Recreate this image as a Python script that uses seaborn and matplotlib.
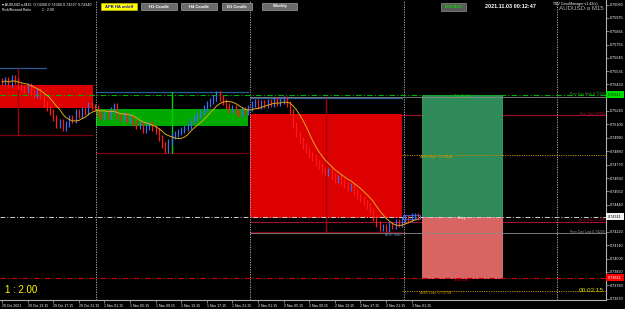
import numpy as np
import pandas as pd
import matplotlib
matplotlib.use("Agg")
import matplotlib.pyplot as plt
from matplotlib.patches import Rectangle
import seaborn as sns

# ---------------- data ----------------
time_labels = ["29 Oct 2021", "29 Oct 13:15", "29 Oct 17:15", "29 Oct 21:15",
               "1 Nov 01:15", "1 Nov 05:15", "1 Nov 09:15", "1 Nov 13:15",
               "1 Nov 17:15", "1 Nov 21:15", "2 Nov 01:15", "2 Nov 05:15",
               "2 Nov 09:15", "2 Nov 13:15", "2 Nov 17:15", "2 Nov 21:15",
               "3 Nov 01:15"]
time_label_hours = [0, 4, 8, 12, 16, 20, 24, 28, 32, 36, 40, 44, 48, 52, 56, 60, 64]

price_ticks = [0.76080, 0.75975, 0.75865, 0.75755, 0.75645, 0.75535, 0.75430,
               0.75210, 0.75100, 0.74990, 0.74880, 0.74770, 0.74660,
               0.74550, 0.74440, 0.74220, 0.74110, 0.74000, 0.73890,
               0.73780, 0.73670]

# 30-minute closes
closes_day1 = [0.75448, 0.75464, 0.75431, 0.75480, 0.75456, 0.75415, 0.75398, 0.75382,
               0.75415, 0.75366, 0.75341, 0.75374, 0.75333, 0.75267, 0.75234, 0.75202,
               0.75152, 0.75095, 0.75120, 0.75070, 0.75103, 0.75152, 0.75136, 0.75202,
               0.75177, 0.75218, 0.75202, 0.75259, 0.75242, 0.75234]
closes_day2 = [0.75185, 0.75161, 0.75193, 0.75169, 0.75218, 0.75251, 0.75169, 0.75152,
               0.75177, 0.75136, 0.75152, 0.75111, 0.75087, 0.75103, 0.75054, 0.75079,
               0.75103, 0.75070, 0.75046, 0.74988, 0.74931, 0.74890, 0.74956, 0.75005,
               0.75021, 0.75038, 0.75054, 0.75070, 0.75087, 0.75128, 0.75152, 0.75177,
               0.75202, 0.75234, 0.75267, 0.75292, 0.75316, 0.75349, 0.75316, 0.75284,
               0.75251, 0.75218, 0.75234, 0.75202, 0.75185, 0.75218, 0.75202, 0.75234]
closes_day3 = [0.75267, 0.75284, 0.75251, 0.75275, 0.75259, 0.75284, 0.75267, 0.75300,
               0.75275, 0.75292, 0.75308, 0.75267, 0.75202, 0.75095, 0.75021, 0.74972,
               0.74923, 0.74890, 0.74849, 0.74824, 0.74783, 0.74759, 0.74726, 0.74701,
               0.74718, 0.74677, 0.74644, 0.74660, 0.74628, 0.74603, 0.74578, 0.74595,
               0.74546, 0.74513, 0.74488, 0.74455, 0.74431, 0.74390, 0.74332, 0.74283,
               0.74250, 0.74259, 0.74242, 0.74275, 0.74267, 0.74300, 0.74283, 0.74316]
closes_day4 = [0.74332, 0.74324, 0.74349, 0.74349, 0.74340]
bar_hours = 0.5

day_start = [-1.0, 14.75, 38.75]
day_end = [14.25, 38.5, 62.5]
day_high_end = [6.9, 38.5, 62.5]
day_open = [0.75423, 0.75087, 0.75185]
day_close = [0.75234, 0.75226, 0.74332]
day_high = [0.75562, 0.75366, 0.75316]
day_low = [0.75013, 0.74865, 0.74218]
day_mid = [2.5, 26.6, 50.6]
separator_hours = [14.75, 38.75, 62.75, 86.75]

entry_price = 0.74341
take_profit = 0.75341
stop_loss = 0.73841
prev_day_high = 0.75325
prev_day_open = 0.75177
prev_day_close = 0.74300
prev_day_low = 0.74209
adr_high = 0.74849
adr_low = 0.73734
adr_start = 62.5
trade_box = [65.6, 78.1]

# ---------------- figure ----------------
W, H = 625, 309
sns.set_style("dark", {"axes.facecolor": "black", "figure.facecolor": "black"})
plt.rcParams["font.family"] = ["Liberation Sans", "DejaVu Sans"]

fig = plt.figure(figsize=(W / 100, H / 100), dpi=100)
fig.patch.set_facecolor("black")
ax = fig.add_axes([0, 9 / H, 606 / W, 300 / H])
ax.set_facecolor("black")
XMIN, XMAX = -2 / 6.4, 604 / 6.4
YMIN, YMAX = 0.73660, 0.76120
ax.set_xlim(XMIN, XMAX)
ax.set_ylim(YMIN, YMAX)

def fx(x):
    return x / W

def fy(y):
    return 1 - y / H

# day boxes
for s, e, he, o, c, hi, lo, m in zip(day_start, day_end, day_high_end, day_open,
                                      day_close, day_high, day_low, day_mid):
    col = "#00a800" if c > o else "#dc0000"
    ax.add_patch(Rectangle((s, min(o, c)), e - s, abs(c - o), facecolor=col,
                           edgecolor="none", zorder=1))
    ax.plot([s, he], [hi, hi], color="#2a5f9e", lw=0.9, zorder=2)
    ax.plot([s, e], [lo, lo], color="#7a0010", lw=0.9, zorder=2)
    ax.plot([m, m], [lo, hi], color=("#00d000" if c > o else "#a00010"), lw=1.0, zorder=2)

# trade boxes
ax.add_patch(Rectangle((trade_box[0], entry_price), trade_box[1] - trade_box[0],
                       take_profit - entry_price, facecolor="#2e8b57",
                       edgecolor="#3fa06a", lw=0.6, zorder=1))
ax.add_patch(Rectangle((trade_box[0], stop_loss), trade_box[1] - trade_box[0],
                       entry_price - stop_loss, facecolor="#d96464",
                       edgecolor="#e07878", lw=0.6, zorder=1))

# separators
for s in separator_hours:
    ax.axvline(s, color="#bdbdbd", lw=0.6, ls=(0, (1.5, 1.5)), zorder=2)

# horizontal levels
ax.axhline(take_profit, color="#00b000", lw=0.8, ls=(0, (5, 2, 1, 2)), zorder=2)
ax.axhline(entry_price, color="#cfcfcf", lw=0.7, ls=(0, (5, 2, 1, 2)), zorder=2)
ax.axhline(stop_loss, color="#d00000", lw=0.8, ls=(0, (5, 2, 1, 2)), zorder=2)
ax.plot([38.75, XMAX], [prev_day_high] * 2, color="#8a8a8a", lw=0.6, zorder=2)
ax.plot([38.75, XMAX], [prev_day_low] * 2, color="#8a8a8a", lw=0.6, zorder=2)
ax.plot([38.75, XMAX], [prev_day_open] * 2, color="#a01030", lw=0.8, zorder=0.5)
ax.plot([38.75, XMAX], [prev_day_close] * 2, color="#a01030", lw=0.8, zorder=0.5)
ax.plot([adr_start, XMAX], [adr_high] * 2, color="#c88000", lw=0.7, ls=(0, (1.2, 1.2)), zorder=2)
ax.plot([adr_start, XMAX], [adr_low] * 2, color="#c88000", lw=0.7, ls=(0, (1.2, 1.2)), zorder=2)

# candles
closes = np.array(closes_day1 + closes_day2 + closes_day3 + closes_day4)
hours = np.arange(len(closes)) * bar_hours
opens = np.concatenate([[closes[0] + 0.00010], closes[:-1]])
wick = 0.00025
highs = np.maximum(opens, closes) + wick
lows = np.minimum(opens, closes) - wick
cols = np.where(closes >= opens, "#3d6ff0", "#ff1a1a")
ax.vlines(hours, lows, highs, colors=cols, lw=0.9, zorder=4)

# blue frame around current-day bars
day4_hours = hours[-len(closes_day4):]
ax.add_patch(Rectangle((day4_hours[0] - 0.3, min(closes_day4) - 0.00002),
                       day4_hours[-1] - day4_hours[0] + 0.6,
                       max(closes_day4) - min(closes_day4) + 0.00006,
                       facecolor="none", edgecolor="#3d6ff0", lw=0.6, zorder=3))

df = pd.DataFrame({"hour": hours, "close": closes})
df["ma"] = df["close"].rolling(8, min_periods=1).mean()
sns.lineplot(data=df, x="hour", y="ma", color="#e0a81c", lw=0.7, ax=ax,
             legend=False, zorder=5)
ax.set_xlabel("")
ax.set_ylabel("")
ax.grid(False)

# axes styling
for side in ["top", "left"]:
    ax.spines[side].set_visible(False)
for side in ["right", "bottom"]:
    ax.spines[side].set_visible(True)
    ax.spines[side].set_color("#b0b0b0")
    ax.spines[side].set_linewidth(0.8)
ax.yaxis.tick_right()
ax.set_yticks(price_ticks)
ax.set_yticklabels([f"{p:.5f}" for p in price_ticks])
ax.set_xticks(time_label_hours)
ax.set_xticklabels(time_labels, ha="left")
ax.tick_params(axis="y", which="both", right=True, left=False, length=2, width=0.5,
               colors="#b0b0b0", labelcolor="white", labelsize=2.7, pad=1)
ax.tick_params(axis="x", which="both", bottom=True, length=2, width=0.5,
               colors="#b0b0b0", labelcolor="white", labelsize=2.5, pad=1)

# in-chart labels
def dtext(xh, p, s, color, size=2.7, ha="center", va="center", **kw):
    ax.text(xh, p, s, color=color, fontsize=size, ha=ha, va=va, zorder=6, **kw)

mid_trade = (trade_box[0] + trade_box[1]) / 2
dtext(mid_trade, take_profit - 0.00012, "TakeProfit", "#00d000")
dtext(mid_trade, entry_price - 0.00012, "Entry", "#f0f0f0")
dtext(mid_trade, stop_loss - 0.00015, "StopLoss", "#d00000")
dtext(65.3, adr_high - 0.00015, "ADR High: 0.74849", "#d8a000", ha="left")
dtext(65.3, adr_low - 0.00017, "ADR Low: 0.73734", "#d8a000", ha="left")
dtext(61.2, prev_day_low - 0.00020, "ADR Start", "#5a9ab0")
x_right = 603 / 6.4
dtext(x_right, take_profit + 0.00010, "Prev Day High 0.75325", "#30a030", ha="right", size=2.4)
dtext(x_right, prev_day_open + 0.00012, "Prev Day OPEN", "#b01030", ha="right", size=2.4)
dtext(x_right, prev_day_close + 0.00012, "Prev Day CLOSE", "#b01030", ha="right", size=2.4)
dtext(x_right, prev_day_low + 0.00012, "Prev Day Low 0.74209", "#9a9a9a", ha="right", size=2.4)

# right price flags
def flag(p, s, bg, fg):
    y = (YMAX - p) / (YMAX - YMIN) * 300
    fig.add_artist(Rectangle((fx(606), fy(y + 3.5)), 18 / W, 7 / H, transform=fig.transFigure,
                             facecolor=bg, edgecolor="none", zorder=7))
    fig.text(fx(615), fy(y), s, color=fg, fontsize=2.7, ha="center", va="center", zorder=8)

flag(take_profit, "0.75341", "#00e000", "#003000")
flag(entry_price, "0.74341", "#f4f4f4", "black")
flag(stop_loss, "0.73841", "#ff0000", "white")

# header
fig.text(fx(2), fy(4.5), "▾ AUDUSD.a,M15  0.74360 0.74360 0.74327 0.74340",
         color="white", fontsize=2.7, va="center")
fig.text(fx(2), fy(10), "Risk/Reward Ratio", color="white", fontsize=2.5, va="center")
fig.text(fx(42), fy(10), "1 : 2.00", color="white", fontsize=2.5, va="center")

def button(x0, x1, y0, y1, s, bg, fg, edge):
    fig.add_artist(Rectangle((fx(x0), fy(y1)), (x1 - x0) / W, (y1 - y0) / H,
                             transform=fig.transFigure, facecolor=bg, edgecolor=edge,
                             lw=0.5, zorder=7))
    fig.text(fx((x0 + x1) / 2), fy((y0 + y1) / 2), s, color=fg, fontsize=3.0,
             fontweight="bold", ha="center", va="center", zorder=8)

button(101, 137, 3, 10, "APB HA on/off", "#ffff00", "#1010c0", "#c0c000")
button(141, 177, 3, 10, "H1 Candle", "#6a6a6a", "white", "#a0a0a0")
button(181, 217, 3, 10, "H4 Candle", "#6a6a6a", "white", "#a0a0a0")
button(222, 252, 3, 10, "D1 Candle", "#6a6a6a", "white", "#a0a0a0")
button(262, 297, 3, 10, "Weekly", "#6a6a6a", "white", "#a0a0a0")
button(441, 466, 3, 11, "R:R BUY", "#5a5a5a", "#00e000", "#909090")

fig.text(fx(485), fy(6), "2021.11.03 00:12:47", color="white", fontsize=4.0,
         fontweight="bold", va="center")
fig.text(fx(553), fy(3.5), "TBV CaveManager v1.42(c)", color="white", fontsize=2.6, va="center")
fig.text(fx(604), fy(9), "AUDUSD.a M15", color="#b4b4b4", fontsize=4.4, ha="right", va="center")

fig.text(fx(5), fy(290), "1 : 2.00", color="#ffff00", fontsize=7, va="center")
fig.text(fx(604), fy(290.5), "00:02:15", color="#d8d800", fontsize=4.6, ha="right", va="center")

fig.savefig("out.png", dpi=100, facecolor="black")
